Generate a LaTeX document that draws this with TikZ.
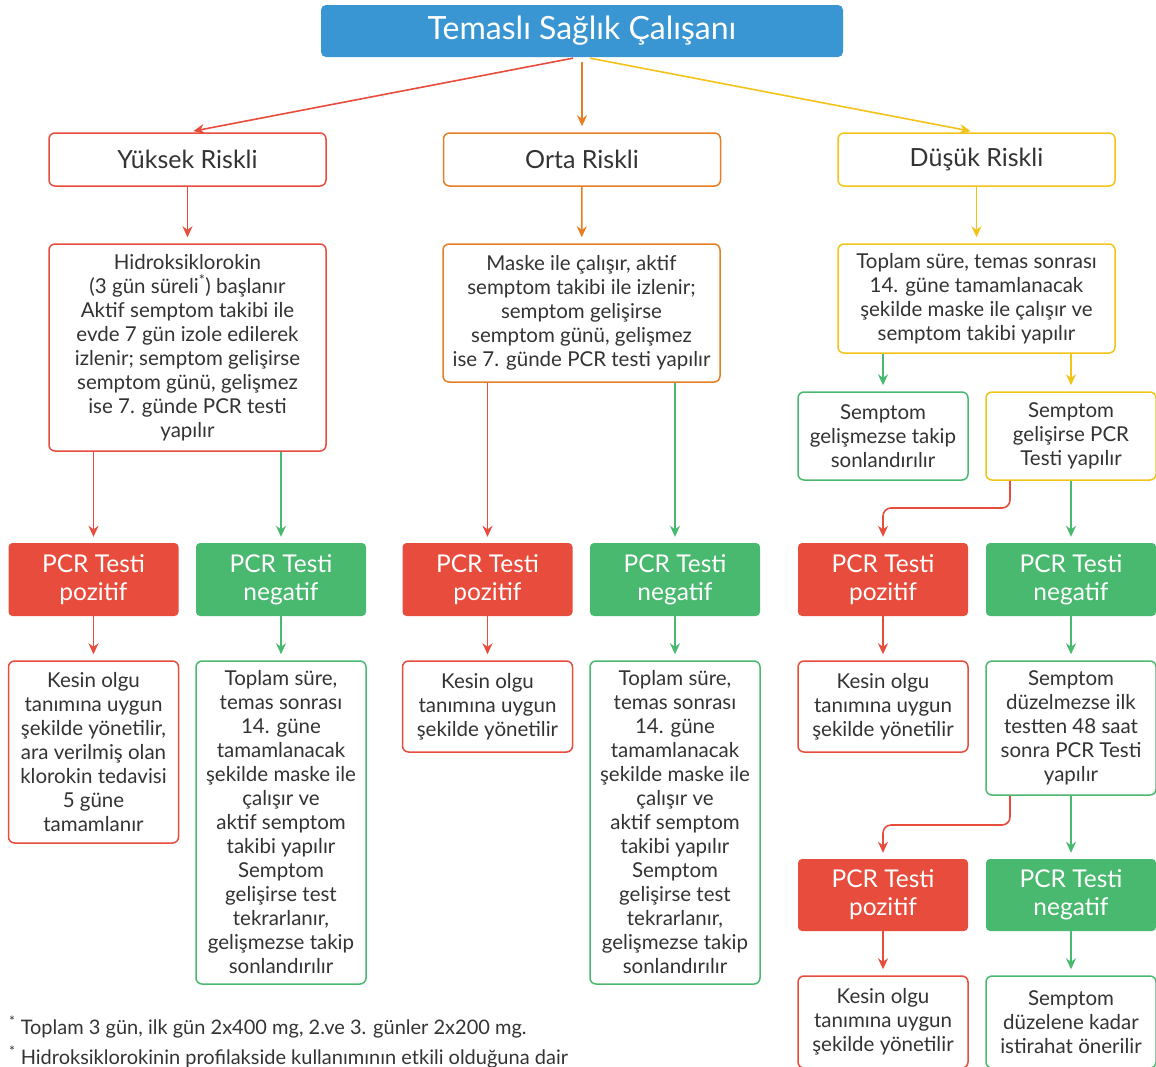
\documentclass[tikz,border=0pt]{standalone}
\usepackage{fontspec}
\setmainfont{Lato}
\usetikzlibrary{arrows.meta,positioning}

\definecolor{kirmizi}{HTML}{E74C3C}
\definecolor{yesil}{HTML}{4AB970}
\definecolor{turuncu}{HTML}{E67E22}
\definecolor{sari}{HTML}{F2C318}
\definecolor{mavi}{HTML}{3A96D3}
\definecolor{yazi}{HTML}{333333}

\tikzset{
  kutu/.style={draw, fill=white, rounded corners=6pt, line width=1.5pt, align=center,
    text=yazi, inner sep=0pt, minimum width=170pt, font=\fontsize{20.5}{24}\selectfont},
  risk/.style={kutu, minimum width=277pt, minimum height=53pt, font=\fontsize{25}{28}\selectfont},
  pcr/.style={rounded corners=4pt, text=white, align=center, inner sep=0pt,
    minimum width=170pt, minimum height=73pt, font=\fontsize{24.5}{28}\selectfont},
  ok/.style={-{Stealth[length=11pt,width=10pt]}, line width=1.6pt, shorten >=6pt},
  dipnot/.style={anchor=base west, inner sep=0pt, text=yazi, font=\fontsize{20}{24}\selectfont},
}

\begin{document}
\begin{tikzpicture}[x=1pt,y=-1pt]
\useasboundingbox (0,0) rectangle (1156,1066);

% baslik
\node[fill=mavi, rounded corners=5pt, minimum width=522pt, minimum height=52pt, text=white,
  font=\fontsize{32}{36}\selectfont] (baslik) at (582,31) {Temaslı Sağlık Çalışanı};

% risk gruplari
\node[risk, draw=kirmizi] (yuksek) at (187.5,159.5) {Yüksek Riskli};
\node[risk, draw=turuncu] (orta) at (582,159.5) {Orta Riskli};
\node[risk, draw=sari] (dusuk) at (976.5,159.5) {Düşük Riskli};

\node[kutu, draw=kirmizi, minimum width=277pt, minimum height=207pt] (hidro) at (187.5,347.5)
  {Hidroksiklorokin\\(3 gün süreli\textsuperscript{*}) başlanır\\Aktif semptom takibi ile\\evde 7 gün izole edilerek\\izlenir; semptom gelişirse\\semptom günü, gelişmez\\ise 7. günde PCR testi\\yapılır};
\node[kutu, draw=turuncu, minimum width=277pt, minimum height=138pt] (maske) at (581.5,313)
  {Maske ile çalışır, aktif\\semptom takibi ile izlenir;\\semptom gelişirse\\semptom günü, gelişmez\\ise 7. günde PCR testi yapılır};
\node[kutu, draw=sari, minimum width=277pt, minimum height=109pt] (toplam) at (976.5,298.5)
  {Toplam süre, temas sonrası\\14. güne tamamlanacak\\şekilde maske ile çalışır ve\\semptom takibi yapılır};

\node[kutu, draw=yesil, minimum height=88pt] (gelismez) at (883,436)
  {Semptom\\gelişmezse takip\\sonlandırılır};
\node[kutu, draw=sari, minimum height=88pt] (gelisir) at (1071,436)
  {Semptom\\gelişirse PCR\\Testi yapılır};

% pcr sonuclari
\node[pcr, fill=kirmizi] (poz1) at (93.5,579.5) {PCR Testi\\pozitif};
\node[pcr, fill=yesil] (neg1) at (281,579.5) {PCR Testi\\negatif};
\node[pcr, fill=kirmizi] (poz2) at (487.5,579.5) {PCR Testi\\pozitif};
\node[pcr, fill=yesil] (neg2) at (675,579.5) {PCR Testi\\negatif};
\node[pcr, fill=kirmizi] (poz3) at (883,579.5) {PCR Testi\\pozitif};
\node[pcr, fill=yesil] (neg3) at (1071,579.5) {PCR Testi\\negatif};

\node[kutu, draw=kirmizi, minimum height=182pt] (kesin1) at (93.5,752)
  {Kesin olgu\\tanımına uygun\\şekilde yönetilir,\\ara verilmiş olan\\klorokin tedavisi\\5 güne\\tamamlanır};
\node[kutu, draw=yesil, minimum height=323pt] (takip1) at (281,822.5)
  {Toplam süre,\\temas sonrası\\14. güne\\tamamlanacak\\şekilde maske ile\\çalışır ve\\aktif semptom\\takibi yapılır\\Semptom\\gelişirse test\\tekrarlanır,\\gelişmezse takip\\sonlandırılır};
\node[kutu, draw=kirmizi, minimum height=91pt] (kesin2) at (487.5,706.5)
  {Kesin olgu\\tanımına uygun\\şekilde yönetilir};
\node[kutu, draw=yesil, minimum height=323pt] (takip2) at (675,822.5)
  {Toplam süre,\\temas sonrası\\14. güne\\tamamlanacak\\şekilde maske ile\\çalışır ve\\aktif semptom\\takibi yapılır\\Semptom\\gelişirse test\\tekrarlanır,\\gelişmezse takip\\sonlandırılır};
\node[kutu, draw=kirmizi, minimum height=91pt] (kesin3) at (883,706.5)
  {Kesin olgu\\tanımına uygun\\şekilde yönetilir};
\node[kutu, draw=yesil, minimum height=134pt] (duzelmez) at (1071,728)
  {Semptom\\düzelmezse ilk\\testten 48 saat\\sonra PCR Testi\\yapılır};

\node[pcr, fill=kirmizi, minimum height=72pt] (poz4) at (883,895) {PCR Testi\\pozitif};
\node[pcr, fill=yesil, minimum height=72pt] (neg4) at (1071,895) {PCR Testi\\negatif};

\node[kutu, draw=kirmizi, minimum height=92pt] (kesin4) at (883,1022)
  {Kesin olgu\\tanımına uygun\\şekilde yönetilir};
\node[kutu, draw=yesil, minimum height=92pt] (duzelene) at (1071,1022)
  {Semptom\\düzelene kadar\\istirahat önerilir};

% dipnotlar
\node[dipnot] (dipnot1) at (9,1034)
  {\textsuperscript{*} Toplam 3 gün, ilk gün 2x400 mg, 2.ve 3. günler 2x200 mg.};
\node[dipnot] (dipnot2) at (9,1064)
  {\textsuperscript{*} Hidroksiklorokinin profilakside kullanımının etkili olduğuna dair};

% oklar
\draw[ok, kirmizi, shorten <=5pt] ([xshift=-4pt]baslik.south) -- (yuksek.north);
\draw[ok, turuncu, shorten <=5pt] (baslik.south) -- (orta.north);
\draw[ok, sari, shorten <=5pt] ([xshift=3pt]baslik.south) -- (dusuk.north);

\draw[ok, kirmizi] (yuksek) -- (hidro);
\draw[ok, turuncu] (orta) -- (maske);
\draw[ok, sari] (dusuk) -- (toplam);

\draw[ok, yesil] (toplam.south -| gelismez) -- (gelismez);
\draw[ok, sari] (toplam.south -| gelisir) -- (gelisir);

\draw[ok, kirmizi] (hidro.south -| poz1) -- (poz1);
\draw[ok, yesil] (hidro.south -| neg1) -- (neg1);
\draw[ok, kirmizi] (maske.south -| poz2) -- (poz2);
\draw[ok, yesil] (maske.south -| neg2) -- (neg2);

\coordinate (donus1) at (1010,508);
\draw[ok, kirmizi, rounded corners=8pt] (gelisir.south -| donus1) -- (donus1) -| (poz3.north);
\draw[ok, yesil] (gelisir) -- (neg3);

\draw[ok, kirmizi] (poz1) -- (kesin1);
\draw[ok, yesil] (neg1) -- (takip1);
\draw[ok, kirmizi] (poz2) -- (kesin2);
\draw[ok, yesil] (neg2) -- (takip2);
\draw[ok, kirmizi] (poz3) -- (kesin3);
\draw[ok, yesil] (neg3) -- (duzelmez);

\coordinate (donus2) at (1010,825);
\draw[ok, kirmizi, rounded corners=8pt] (duzelmez.south -| donus2) -- (donus2) -| (poz4.north);
\draw[ok, yesil] (duzelmez) -- (neg4);

\draw[ok, kirmizi] (poz4) -- (kesin4);
\draw[ok, yesil] (neg4) -- (duzelene);
\end{tikzpicture}
\end{document}
